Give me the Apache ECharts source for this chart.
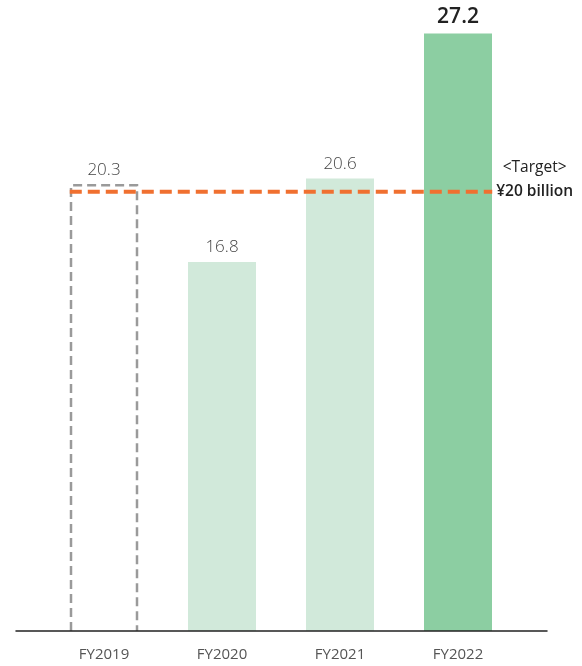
<!DOCTYPE html>
<html>
<head>
<meta charset="utf-8">
<script src="https://cdn.jsdelivr.net/npm/echarts@6/dist/echarts.min.js"></script>
<style>
  html, body { margin: 0; padding: 0; background: #fff; }
  #chart { width: 582px; height: 666px; }
</style>
</head>
<body>
<div id="chart"></div>
<script>
// Fiscal years and results (billion yen)
const categories = ['FY2019', 'FY2020', 'FY2021', 'FY2022'];
const values = [20.3, 16.8, 20.6, 27.2];
const target = 20;
// Horizontal extent of the target line, in category-index units
const targetSpan = [-0.29, 3.29];

const FONT = '"Open Sans", "Noto Sans", sans-serif';
const BAR_WIDTH = 68;

const barData = values.map((v, i) => {
  const item = { value: v };
  if (i === 0) {
    // outlined separately as an open dashed box
    item.itemStyle = { color: 'rgba(0,0,0,0)' };
  } else if (i === values.length - 1) {
    item.itemStyle = { color: '#8ccea2' };
    item.label = { fontSize: 21, fontWeight: 600, color: '#222' };
  } else {
    item.itemStyle = { color: '#d1e9da' };
  }
  return item;
});

const chart = echarts.init(document.getElementById('chart'), null, { renderer: 'canvas' });
chart.setOption({
  animation: false,
  backgroundColor: '#fff',
  grid: [
    { left: 45, right: 65, top: 16, bottom: 35 },
    { left: 16, right: 35, top: 16, bottom: 35 }
  ],
  xAxis: [
    {
      type: 'category', data: categories, gridIndex: 0,
      axisLine: { show: false }, axisTick: { show: false },
      axisLabel: { fontFamily: FONT, fontSize: 15, color: '#555', margin: 16 }
    },
    {
      type: 'value', gridIndex: 0, min: -0.5, max: 3.5, show: false
    },
    {
      type: 'value', gridIndex: 1, min: 0, max: 1, z: 10,
      axisLine: { show: true, lineStyle: { color: '#222', width: 1.5 } },
      axisTick: { show: false }, axisLabel: { show: false }, splitLine: { show: false }
    }
  ],
  yAxis: [
    { type: 'value', gridIndex: 0, min: 0, max: 28, show: false },
    { type: 'value', gridIndex: 1, min: 0, max: 28, show: false }
  ],
  series: [
    {
      type: 'bar', xAxisIndex: 0, yAxisIndex: 0,
      data: barData, barWidth: BAR_WIDTH,
      label: {
        show: true, position: 'top', distance: 6,
        fontFamily: FONT, fontSize: 17, fontWeight: 300, color: '#444'
      },
      z: 2
    },
    {
      // FY2019: dashed outline without a bottom edge
      type: 'custom', xAxisIndex: 0, yAxisIndex: 0,
      data: [[0, values[0]]],
      z: 2,
      renderItem: (params, api) => {
        const top = api.coord([api.value(0), api.value(1)]);
        const base = api.coord([api.value(0), 0]);
        const h = BAR_WIDTH / 2 - 1;
        return {
          type: 'polyline',
          shape: {
            points: [
              [top[0] - h, base[1]], [top[0] - h, top[1]],
              [top[0] + h, top[1]], [top[0] + h, base[1]]
            ]
          },
          style: { fill: null, stroke: '#9a9a9a', lineWidth: 2.5, lineDash: [9, 5] }
        };
      }
    },
    {
      type: 'line', xAxisIndex: 1, yAxisIndex: 0,
      data: [[targetSpan[0], target], [targetSpan[1], target]],
      symbol: 'none',
      lineStyle: { color: '#f07030', width: 4, type: [12, 6] },
      z: 3,
      endLabel: {
        show: true,
        distance: 4,
        offset: [0, -12],
        fontFamily: FONT,
        formatter: () => '{a|<Target>}\n{b|¥' + target + ' billion}',
        rich: {
          a: { fontFamily: FONT, fontSize: 15.5, color: '#222', lineHeight: 24, align: 'center' },
          b: { fontFamily: FONT, fontSize: 15.5, fontWeight: 600, color: '#222', lineHeight: 24, align: 'center' }
        }
      }
    }
  ]
});
</script>
</body>
</html>
